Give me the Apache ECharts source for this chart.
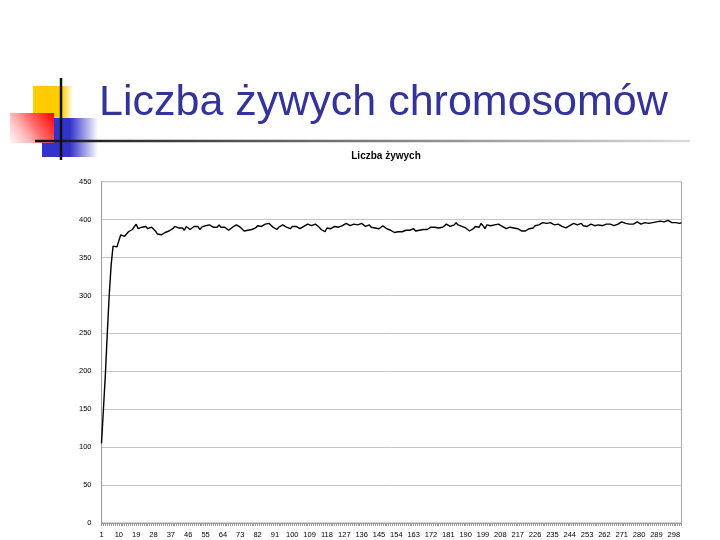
<!DOCTYPE html>
<html lang="pl">
<head>
  <meta charset="utf-8" />
  <title>Liczba żywych chromosomów</title>
  <script src="https://cdn.jsdelivr.net/npm/echarts@6/dist/echarts.min.js"></script>
  <style>
    html, body { margin: 0; padding: 0; background: #fff; }
    #slide { width: 720px; height: 540px; }
  </style>
</head>
<body>
  <div id="slide"></div>
  <script>
    // tytuły
    var slideTitle = 'Liczba żywych chromosomów';
    var chartTitle = 'Liczba żywych';

    // liczba żywych chromosomów w kolejnych pokoleniach (odczyt z wykresu)
    var riseCounts = [105, 150, 195, 250, 300, 340, 365, 366, 364, 372, 380, 382, 378, 379, 384, 386, 387, 387, 394, 388];
    var earlyCounts = [
      387, 390, 392, 391, 388, 388, 390, 389, 385, 381, 381, 380, 378, 383, 385, 385, 386, 388, 391, 390,
      389, 387, 389, 386, 391, 393, 387, 388, 391, 389, 391, 387, 390, 389, 392, 390, 393, 391, 390, 392,
      390, 393, 390, 392, 390, 389, 386, 388, 390, 392, 393, 391, 390, 388, 385, 384, 386, 388, 387, 389,
      389, 392, 390, 391, 393, 394, 396, 395, 394, 390, 389, 387, 390, 392, 393, 393, 390, 391, 388,
      391, 389, 391, 392, 388, 386, 391, 392, 394, 393, 392, 390, 394, 393, 390, 387, 386, 384, 389, 391,
      388, 387, 391, 392, 390, 389, 392, 393, 395, 394
    ];
    var middleCounts = [
      392, 391, 394, 393, 393, 395, 395, 393, 391, 392, 393, 390, 391, 389, 391, 388, 390, 392, 390, 388,
      388, 386, 385, 383, 381, 384, 386, 384, 385, 386, 388, 386, 387, 388, 385, 387, 386, 388, 387, 389,
      387, 389, 390, 388, 390, 391, 389, 391, 390, 392, 394, 393, 391, 392, 393, 396, 393, 394, 391, 390,
      389, 387, 385, 386, 388, 391, 392, 390, 395, 392, 388
    ];
    var lateCounts = [
      393, 391, 392, 391, 393, 392, 394, 393, 391, 391, 388, 387, 390, 391, 389, 390, 388, 386, 385, 383,
      385, 387, 388, 390, 389, 392, 391, 393, 395, 396,
      394, 395, 394, 396, 395, 393, 393, 394, 392, 391, 390, 389, 391, 392, 393, 395, 394, 393, 393, 395,
      392, 392, 391, 393, 394, 393, 392, 391, 393, 391, 392, 393, 394, 396, 394, 392, 392, 393, 394, 396,
      397, 395, 395, 397, 394, 393, 394, 396, 397, 396, 394, 395, 396, 397, 395, 395, 396, 396, 397, 396,
      398, 396, 397, 398, 399, 397, 396, 398, 396, 395, 395, 396
    ];
    var liveCounts = riseCounts.concat(earlyCounts, middleCounts, lateCounts);

    // numery pokoleń 1..N
    var generations = liveCounts.map(function (v, i) { return String(i + 1); });

    var chart = echarts.init(document.getElementById('slide'));
    var option = {
      animation: false,
      backgroundColor: '#fff',
      title: [
        { text: slideTitle, left: 99, top: 82, padding: 0,
          textStyle: { fontFamily: 'Liberation Sans', fontSize: 43, fontWeight: 'normal', color: '#333399' } },
        { text: chartTitle, left: 381, top: 146, textAlign: 'center',
          textStyle: { fontFamily: 'Liberation Sans', fontSize: 10, fontWeight: 'bold', color: '#000' } }
      ],
      graphic: [
        // ozdobne kwadraty slajdu
        { type: 'rect', shape: { x: 33, y: 86, width: 40, height: 34 }, z: 1,
          style: { fill: new echarts.graphic.LinearGradient(0, 0, 1, 0, [
            { offset: 0, color: '#ffcc00' }, { offset: 0.72, color: '#ffcc00' }, { offset: 1, color: 'rgba(255,204,0,0)' }]) } },
        { type: 'rect', shape: { x: 42, y: 118, width: 56, height: 39 }, z: 2,
          style: { fill: new echarts.graphic.LinearGradient(0, 0, 1, 0, [
            { offset: 0, color: '#3333cc' }, { offset: 0.5, color: '#3333cc' }, { offset: 1, color: 'rgba(51,51,204,0)' }]) } },
        { type: 'rect', shape: { x: 10, y: 113, width: 44, height: 30 }, z: 3,
          style: { fill: new echarts.graphic.LinearGradient(1, 0, 0, 1, [
            { offset: 0, color: '#ff0000' }, { offset: 0.45, color: '#ff7070' }, { offset: 1, color: 'rgba(255,210,210,0.3)' }]) } },
        { type: 'line', shape: { x1: 35, y1: 141, x2: 690, y2: 141 }, z: 4,
          style: { lineWidth: 2.5, stroke: new echarts.graphic.LinearGradient(0, 0, 1, 0, [
            { offset: 0, color: '#111' }, { offset: 0.4, color: '#666' }, { offset: 1, color: '#ddd' }]) } },
        { type: 'line', shape: { x1: 61, y1: 78, x2: 61, y2: 160 }, z: 5,
          style: { lineWidth: 2.5, stroke: '#111' } }
      ],
      grid: {
        left: 101.5, top: 181.7, width: 580, height: 341.3,
        show: true, borderColor: '#a8a8a8', borderWidth: 1
      },
      xAxis: {
        type: 'category',
        data: generations,
        boundaryGap: false,
        axisLine: { lineStyle: { color: '#9a9a9a' } },
        axisTick: { show: true, interval: 0, length: 3, lineStyle: { color: '#9a9a9a' } },
        axisLabel: { interval: 8, margin: 8, fontFamily: 'Liberation Sans', fontSize: 7.5, color: '#000' },
        splitLine: { show: false }
      },
      yAxis: {
        type: 'value',
        min: 0, max: 450, interval: 50,
        axisLine: { show: true, lineStyle: { color: '#9a9a9a' } },
        axisTick: { show: false },
        axisLabel: { margin: 10, fontFamily: 'Liberation Sans', fontSize: 7.5, color: '#000' },
        splitLine: { lineStyle: { color: '#c4c4c4' } }
      },
      series: [{
        name: chartTitle,
        type: 'line',
        data: liveCounts,
        showSymbol: false,
        lineStyle: { color: '#000', width: 1.4 }
      }]
    };
    chart.setOption(option);
  </script>
</body>
</html>
